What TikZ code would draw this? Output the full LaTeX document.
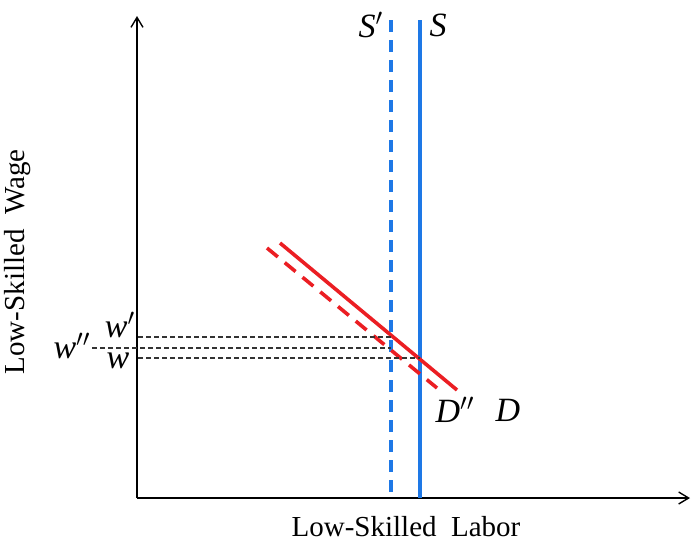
\documentclass[tikz,border=0pt]{standalone}
\usepackage{fontspec}
\setmainfont{Liberation Serif}
\usepackage{xcolor}
\usetikzlibrary{positioning, arrows.meta}
\definecolor{SupplyBlue}{RGB}{30,120,230}
\definecolor{DemandRed}{RGB}{235,30,35}
\tikzset{
  axisline/.style={-{Straight Barb[length=5pt,width=6pt]}, line width=0.7pt, black},
  supply/.style={line width=1.8pt, SupplyBlue},
  supplyshift/.style={supply, dash pattern=on 6pt off 4pt},
  demand/.style={line width=1.8pt, DemandRed},
  demandshift/.style={demand, dash pattern=on 7pt off 4.5pt},
  wageguide/.style={line width=0.6pt, black!80, dash pattern=on 2.5pt off 1.5pt},
  curvelab/.style={font=\fontsize{17}{20}\selectfont\itshape, inner sep=1pt},
  axislab/.style={font=\fontsize{14.5}{17}\selectfont, inner sep=1pt},
}
\begin{document}
\begin{tikzpicture}[x=0.5pt, y=-0.5pt]
  \useasboundingbox (0,0) rectangle (691,547);
  % axes
  \coordinate (O) at (137,498);
  \coordinate (ytop) at (137,16);
  \coordinate (xend) at (690,498);
  \draw[axisline] (O) -- (ytop);
  \draw[axisline] (O) -- (xend);
  \node[axislab] (xlab) at (406,527) {Low-Skilled\ \ Labor};
  \node[axislab, rotate=90] (ylab) at (18,262) {Low-Skilled\ \ Wage};
  % supply curves
  \coordinate (Stop) at (420,20);
  \coordinate (Sbot) at (420,498);
  \coordinate (Sptop) at (391,20);
  \coordinate (Spbot) at (391,498);
  \draw[supply] (Stop) -- (Sbot);
  \draw[supplyshift] (Sptop) -- (Spbot);
  \node[curvelab] (Slab) at (438,25) {S};
  \node[curvelab] (Splab) at (371,25) {S$'$};
  % demand curves
  \coordinate (Dtop) at (280,243);
  \coordinate (Dbot) at (457,390);
  \coordinate (Dpptop) at (267,248);
  \coordinate (Dppbot) at (437,388);
  \draw[demand] (Dtop) -- (Dbot);
  \draw[demandshift] (Dpptop) -- (Dppbot);
  \node[curvelab] (Dlab) at (508,410) {D};
  \node[curvelab] (Dpplab) at (455,410) {D$''$};
  % wage levels
  \coordinate (wpA) at (138,337);
  \coordinate (wpB) at (391,337);
  \coordinate (wppA) at (92,348);
  \coordinate (wppB) at (391,348);
  \coordinate (wA) at (138,358);
  \coordinate (wB) at (420,358);
  \draw[wageguide] (wpA) -- (wpB);
  \draw[wageguide] (wppA) -- (wppB);
  \draw[wageguide] (wA) -- (wB);
  \node[curvelab] (wplab) at (120,325) {w$'$};
  \node[curvelab] (wpplab) at (72,346) {w$''$};
  \node[curvelab] (wlab) at (118,361) {w};
\end{tikzpicture}
\end{document}
